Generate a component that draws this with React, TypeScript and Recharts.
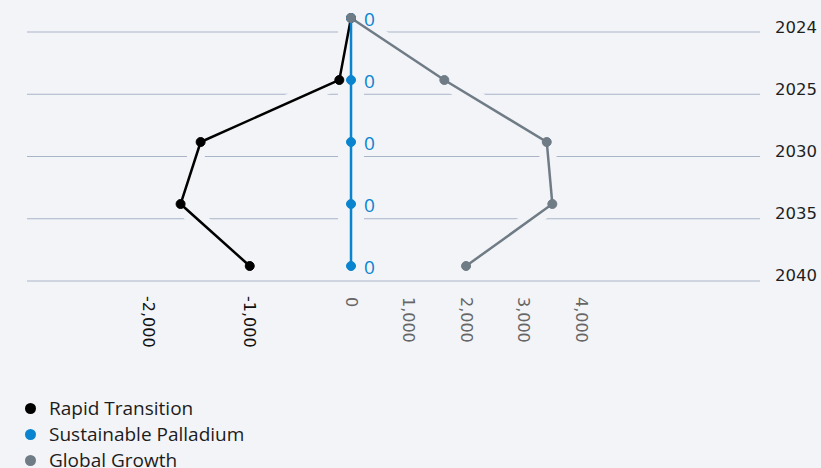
import { LineChart, Line, XAxis, YAxis, CartesianGrid, Legend, LabelList } from 'recharts';

const years = ['2024', '2025', '2030', '2035', '2040'];
const rapidTransition = [0, -115, -1485, -1683, -1000];
const sustainablePalladium = [0, 0, 0, 0, 0];
const globalGrowth = [0, 1620, 3398, 3495, 1997];

const negTicks = [-2000, -1000];
const posTicks = [0, 1000, 2000, 3000, 4000];

const BG = '#f3f4f7';
const TOP = 18;
const SERIES = [
    { key: 'rapid', name: 'Rapid Transition', color: '#000000', axis: 'neg' },
    { key: 'sustainable', name: 'Sustainable Palladium', color: '#0b84d0', axis: 'pos' },
    { key: 'global', name: 'Global Growth', color: '#6f7b85', axis: 'pos' },
];

const data = years.map((year, i) => ({
    year,
    rapid: rapidTransition[i],
    sustainable: sustainablePalladium[i],
    global: globalGrowth[i],
}));

const fmt = (v: number) => v.toLocaleString('en-US');

const XTick = ({ x, y, payload, fill }: any) => (
    <text
        x={x}
        y={y}
        transform={`rotate(90, ${x}, ${y})`}
        textAnchor="start"
        dominantBaseline="central"
        fill={fill}
        fontSize={16}
        fontFamily="DejaVu Sans">
        {fmt(payload.value)}
    </text>
);

const YTick = ({ x, y, payload }: any) => (
    <text x={x} y={y + 9} dy="0.355em" textAnchor="start" fill="#1f1f1f" fontSize={16.5} fontFamily="DejaVu Sans">
        {payload.value}
    </text>
);

const ValueLabel = ({ x, y, value }: any) => (
    <text x={x + 13} y={y + 1} dominantBaseline="central" fill="#0b84d0" fontSize={19} fontFamily="Open Sans">
        {value}
    </text>
);

// skip the line recharts puts on the plot's top edge
const GridLine = (p: any) =>
    p.y1 < TOP + 2 ? <g key={p.key} /> : <line key={p.key} x1={p.x1} y1={p.y1} x2={p.x2} y2={p.y2} stroke="#a9b4c9" strokeWidth={1} />;

const LegendContent = () => (
    <div style={{ paddingTop: 112, paddingLeft: 25, fontFamily: '"Open Sans", sans-serif', fontSize: 19, color: '#1c1c1c' }}>
        {SERIES.map((s) => (
            <div key={s.key} style={{ display: 'flex', alignItems: 'center', height: 26 }}>
                <span style={{ width: 11, height: 11, borderRadius: '50%', background: s.color, marginRight: 13 }} />
                <span>{s.name}</span>
            </div>
        ))}
    </div>
);

const App = () => (
    <div style={{ position: 'fixed', top: 0, left: 0, width: 821, height: 468, overflow: 'hidden', background: BG }}>
        <LineChart layout="vertical" width={821} height={473} data={data} margin={{ top: TOP, right: 0, bottom: 0, left: 27 }}>
            <CartesianGrid vertical={false} stroke="#a9b4c9" xAxisId="pos" yAxisId="grid" horizontal={GridLine} />
            <XAxis
                xAxisId="neg"
                type="number"
                domain={[-3200, 4040]}
                ticks={negTicks}
                height={1}
                interval={0}
                axisLine={false}
                tickLine={false}
                tickMargin={9}
                tick={(p: any) => <XTick {...p} fill="#111111" />}
            />
            <XAxis
                xAxisId="pos"
                type="number"
                domain={[-5625, 7100]}
                ticks={posTicks}
                height={1}
                interval={0}
                axisLine={false}
                tickLine={false}
                tickMargin={9}
                tick={(p: any) => <XTick {...p} fill="#666666" />}
            />
            <YAxis
                yAxisId="main"
                type="category"
                dataKey="year"
                orientation="right"
                scale="point"
                width={61}
                padding={{ top: 0, bottom: 15 }}
                axisLine={false}
                tickLine={false}
                tickMargin={9}
                interval={0}
                tick={YTick}
            />
            <YAxis yAxisId="grid" type="category" dataKey="year" scale="point" padding={{ top: 14, bottom: 0 }} hide />
            {/* background-coloured halos cut the grid where the lines cross it */}
            {SERIES.map((s) => (
                <Line
                    key={`halo-${s.key}`}
                    dataKey={s.key}
                    xAxisId={s.axis}
                    yAxisId="main"
                    stroke={BG}
                    strokeWidth={s.key === 'sustainable' ? 26 : 17}
                    dot={false}
                    activeDot={false}
                    legendType="none"
                    isAnimationActive={false}
                />
            ))}
            {SERIES.map((s) => (
                <Line
                    key={s.key}
                    name={s.name}
                    dataKey={s.key}
                    xAxisId={s.axis}
                    yAxisId="main"
                    stroke={s.color}
                    strokeWidth={2.5}
                    dot={{ r: 4.5, fill: s.color, stroke: s.color, strokeWidth: 1 }}
                    isAnimationActive={false}>
                    {s.key === 'sustainable' && <LabelList dataKey={s.key} content={ValueLabel} />}
                </Line>
            ))}
            <Legend verticalAlign="bottom" align="left" wrapperStyle={{ left: 0 }} content={LegendContent} />
        </LineChart>
    </div>
);

export default App;
